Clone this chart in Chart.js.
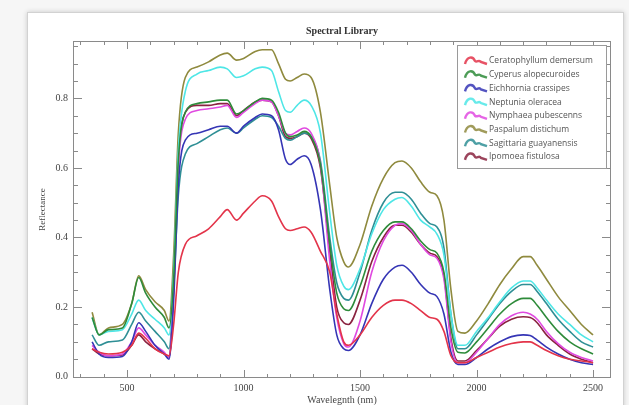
<!DOCTYPE html>
<html>
<head>
<meta charset="utf-8">
<script src="https://cdn.jsdelivr.net/npm/chart.js@4.4.0/dist/chart.umd.min.js"></script>
<style>
  html, body { margin: 0; padding: 0; background: #f6f6f6; }
  #wrap { position: relative; width: 629px; height: 405px; overflow: hidden; }
  #panel { position: absolute; left: 27px; top: 12px; width: 595px; height: 400px; background: #fff;
           border: 1px solid #d2d2d2; box-shadow: 0 0 5px rgba(0,0,0,0.18); }
  canvas { position: absolute; left: 0; top: 0; }
</style>
</head>
<body>
<div id="wrap"><div id="panel"></div><canvas id="spectraChart" width="629" height="405"></canvas></div>
<script>
// wavelengths (nm) and reflectance
const wavelengths = [350, 380, 420, 480, 520, 550, 580, 620, 660, 680,
  700, 720, 750, 800, 850, 900, 930, 970, 1000, 1050,
  1080, 1120, 1150, 1180, 1200, 1230, 1260, 1290, 1330, 1370,
  1400, 1430, 1450, 1500, 1550, 1600, 1650, 1680, 1720, 1760,
  1800, 1830, 1860, 1890, 1920, 1950, 2000, 2050, 2100, 2150,
  2200, 2230, 2260, 2300, 2350, 2400, 2450, 2500];

const ceratophyllum = [.08,.07,.065,.07,.09,.125,.11,.08,.065,.06,
  .15,.30,.38,.405,.425,.46,.48,.45,.47,.505,
  .52,.505,.46,.425,.42,.425,.43,.415,.36,.30,
  .18,.10,.09,.12,.17,.205,.22,.22,.21,.19,
  .17,.165,.13,.06,.04,.04,.055,.07,.085,.095,
  .10,.10,.09,.075,.06,.05,.045,.04];
const cyperus = [.17,.12,.135,.14,.21,.285,.24,.20,.17,.14,
  .28,.62,.76,.785,.79,.795,.795,.755,.765,.79,
  .80,.795,.76,.70,.69,.695,.705,.69,.61,.38,
  .24,.195,.19,.26,.36,.42,.445,.445,.425,.39,
  .365,.355,.30,.14,.07,.068,.10,.14,.18,.21,
  .225,.225,.205,.17,.13,.10,.08,.065];
const eichhornia = [.10,.065,.055,.058,.10,.155,.13,.09,.065,.05,
  .22,.55,.68,.70,.71,.72,.72,.70,.72,.745,
  .755,.75,.71,.625,.61,.625,.635,.61,.48,.25,
  .12,.08,.075,.12,.21,.28,.315,.32,.30,.265,
  .24,.23,.18,.07,.035,.035,.055,.08,.10,.115,
  .12,.118,.105,.085,.065,.05,.04,.035];
const neptunia = [.17,.12,.13,.135,.18,.22,.19,.165,.14,.12,
  .30,.65,.82,.87,.88,.89,.885,.86,.865,.885,
  .89,.88,.82,.765,.76,.78,.795,.78,.70,.47,
  .32,.26,.25,.31,.41,.48,.51,.515,.49,.45,
  .43,.41,.35,.18,.09,.09,.13,.17,.215,.255,
  .275,.275,.255,.22,.18,.15,.12,.10];
const nymphaea = [.09,.07,.06,.065,.10,.14,.12,.09,.07,.055,
  .25,.60,.74,.765,.77,.775,.78,.745,.76,.785,
  .795,.79,.75,.70,.695,.705,.715,.70,.61,.33,
  .17,.095,.085,.16,.30,.39,.435,.44,.42,.38,
  .35,.34,.28,.10,.04,.04,.07,.11,.15,.175,
  .185,.18,.165,.13,.095,.07,.055,.045];
const paspalum = [.185,.12,.14,.15,.21,.29,.25,.215,.19,.16,
  .35,.70,.86,.89,.905,.925,.93,.91,.915,.935,
  .94,.94,.90,.855,.85,.86,.87,.86,.76,.55,
  .40,.33,.315,.38,.49,.57,.615,.62,.60,.56,
  .53,.52,.45,.25,.13,.125,.16,.21,.265,.31,
  .345,.345,.32,.28,.23,.19,.15,.12];
const sagittaria = [.12,.09,.10,.105,.15,.185,.16,.13,.10,.08,
  .25,.52,.64,.67,.69,.71,.715,.70,.715,.74,
  .75,.745,.72,.685,.68,.69,.70,.69,.62,.40,
  .27,.225,.22,.30,.42,.50,.53,.53,.51,.47,
  .44,.43,.37,.18,.08,.08,.12,.165,.21,.245,
  .265,.265,.245,.21,.165,.13,.10,.085];
const ipomoea = [.08,.065,.06,.062,.09,.12,.10,.08,.065,.055,
  .26,.62,.76,.78,.78,.785,.785,.75,.765,.79,
  .795,.79,.75,.69,.685,.69,.70,.685,.60,.36,
  .20,.155,.15,.22,.33,.40,.435,.435,.415,.38,
  .355,.345,.29,.11,.045,.045,.075,.11,.145,.165,
  .172,.17,.155,.12,.09,.065,.05,.04];

const speciesNames = ['Ceratophyllum demersum', 'Cyperus alopecuroides', 'Eichhornia crassipes',
  'Neptunia oleracea', 'Nymphaea pubescenns', 'Paspalum distichum', 'Sagittaria guayanensis', 'Ipomoea fistulosa'];
const speciesValues = [ceratophyllum, cyperus, eichhornia, neptunia, nymphaea, paspalum, sagittaria, ipomoea];
const speciesColors = ['#e3344a', '#2e8b3a', '#3535b5', '#4ee6e6', '#e04ae0', '#8f8a3e', '#2f8f95', '#8a2340'];

// axis ticks: minor every 100 nm / 0.05, labels on the major ones
const xTickValues = [300, 400, 500, 600, 700, 800, 900, 1000, 1100, 1200, 1300, 1400,
  1500, 1600, 1700, 1800, 1900, 2000, 2100, 2200, 2300, 2400, 2500];
const xTickLabels = [500, 1000, 1500, 2000, 2500];
const yTickValues = [0, 0.05, 0.1, 0.15, 0.2, 0.25, 0.3, 0.35, 0.4, 0.45,
  0.5, 0.55, 0.6, 0.65, 0.7, 0.75, 0.8, 0.85, 0.9, 0.95];
const yTickLabels = [0, 0.2, 0.4, 0.6, 0.8];

const serif = 'Liberation Serif, DejaVu Serif, serif';

// frame with inward ticks on all four sides
const frameTicks = {
  id: 'frameTicks',
  afterDatasetsDraw(chart) {
    const {ctx, chartArea: a, scales: {x, y}} = chart;
    ctx.save();
    ctx.strokeStyle = '#8a8a8a';
    ctx.lineWidth = 1;
    ctx.strokeRect(a.left + 0.5, a.top + 0.5, a.right - a.left - 1, a.bottom - a.top - 1);
    ctx.beginPath();
    x.ticks.forEach(t => {
      const len = xTickLabels.includes(t.value) ? 8 : 4;
      const px = Math.round(x.getPixelForValue(t.value)) + 0.5;
      ctx.moveTo(px, a.bottom); ctx.lineTo(px, a.bottom - len);
      ctx.moveTo(px, a.top); ctx.lineTo(px, a.top + len);
    });
    y.ticks.forEach(t => {
      const len = yTickLabels.includes(t.value) ? 9 : 5;
      const py = Math.round(y.getPixelForValue(t.value)) + 0.5;
      ctx.moveTo(a.left, py); ctx.lineTo(a.left + len, py);
      ctx.moveTo(a.right, py); ctx.lineTo(a.right - len, py);
    });
    ctx.stroke();
    ctx.restore();
  }
};

// boxed legend with little spectrum icons, top right inside the plot
const boxLegend = {
  id: 'boxLegend',
  afterDraw(chart) {
    const {ctx, chartArea: a} = chart;
    const left = a.right - 154, top = a.top + 4, w = 149, h = 123;
    ctx.save();
    ctx.fillStyle = '#fff';
    ctx.fillRect(left, top, w, h);
    ctx.strokeStyle = '#9a9a9a';
    ctx.lineWidth = 1;
    ctx.strokeRect(left + 0.5, top + 0.5, w, h);
    ctx.font = '8.5px "Open Sans", sans-serif';
    ctx.textBaseline = 'middle';
    chart.data.datasets.forEach((ds, i) => {
      const cy = top + 16 + i * 13.7;
      const x0 = left + 8;
      ctx.strokeStyle = ds.borderColor;
      ctx.globalAlpha = 0.85;
      ctx.lineWidth = 2.4;
      ctx.beginPath();
      ctx.moveTo(x0, cy + 3);
      ctx.bezierCurveTo(x0 + 2, cy - 5, x0 + 8, cy - 5, x0 + 10, cy);
      ctx.bezierCurveTo(x0 + 12, cy + 2, x0 + 14, cy - 2, x0 + 16, cy + 1);
      ctx.lineTo(x0 + 22, cy + 3);
      ctx.stroke();
      ctx.globalAlpha = 1;
      ctx.fillStyle = '#555';
      ctx.fillText(ds.label, left + 32, cy);
    });
    ctx.restore();
  }
};

const datasets = speciesNames.map((name, i) => ({
  label: name,
  data: wavelengths.map((w, j) => ({x: w, y: speciesValues[i][j]})),
  borderColor: speciesColors[i],
  borderWidth: 1.6,
  pointRadius: 0,
  cubicInterpolationMode: 'monotone',
  fill: false
}));

new Chart(document.getElementById('spectraChart'), {
  type: 'line',
  data: { datasets: datasets },
  options: {
    responsive: false,
    animation: false,
    layout: { padding: { left: 0, right: 18, top: 0, bottom: 0 } },
    plugins: {
      legend: { display: false },
      tooltip: { enabled: false },
      title: {
        display: true, text: 'Spectral Library', fullSize: false, color: '#333',
        font: { family: serif, size: 10, weight: 'bold' },
        padding: { top: 25, bottom: 4 }
      }
    },
    scales: {
      x: {
        type: 'linear', min: 268, max: 2577,
        afterBuildTicks: s => { s.ticks = xTickValues.map(v => ({ value: v })); },
        afterFit: s => { s.height = 27; },
        grid: { display: false, drawTicks: false },
        border: { display: false },
        ticks: {
          autoSkip: false, maxRotation: 0, minRotation: 0, padding: 4, color: '#444',
          font: { family: serif, size: 10 },
          callback: v => (xTickLabels.includes(v) ? String(v) : '')
        },
        title: {
          display: true, text: 'Wavelegnth (nm)', color: '#444',
          font: { family: serif, size: 10, lineHeight: 1 },
          padding: { top: 0, bottom: 0 }
        }
      },
      y: {
        min: -0.004, max: 0.965,
        afterBuildTicks: s => { s.ticks = yTickValues.map(v => ({ value: v })); },
        afterFit: s => { s.width = 73; },
        grid: { display: false, drawTicks: false },
        border: { display: false },
        ticks: {
          autoSkip: false, padding: 5, color: '#444',
          font: { family: serif, size: 10 },
          callback: v => (yTickLabels.includes(v) ? v.toFixed(1) : '')
        },
        title: {
          display: true, text: 'Reflectance', color: '#444',
          font: { family: serif, size: 9 },
          padding: { top: 37, bottom: 0 }
        }
      }
    }
  },
  plugins: [frameTicks, boxLegend]
});
</script>
</body>
</html>
